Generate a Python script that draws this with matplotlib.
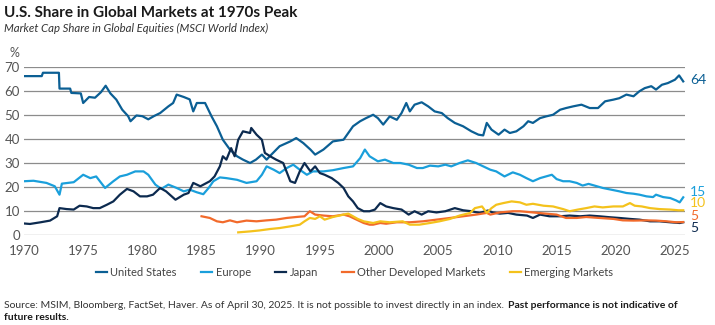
import matplotlib
matplotlib.use("Agg")
import matplotlib.pyplot as plt

plt.rcParams["font.family"] = ["Lato", "DejaVu Sans"]

# market cap share (%)
us_year = [1970.0, 1971.5, 1971.6, 1972.95, 1973.0, 1973.9, 1974.0, 1974.8, 1975.0,
           1975.5, 1976.0, 1976.5, 1976.9, 1977.3, 1977.8, 1978.3, 1978.8, 1979.0,
           1979.5, 1980.0, 1980.5, 1981.0, 1981.5, 1982.2, 1982.6, 1982.9, 1983.5,
           1984.0, 1984.3, 1984.6, 1985.3, 1985.85, 1986.3, 1986.8, 1987.4, 1988.0,
           1988.5, 1989.1, 1989.6, 1990.1, 1990.5, 1990.9, 1991.6, 1992.5, 1993.0,
           1993.6, 1994.2, 1994.6, 1995.3, 1996.1, 1997.0, 1997.8, 1998.4, 1998.9,
           1999.5, 1999.9, 2000.35, 2000.9, 2001.5, 2001.9, 2002.3, 2002.6, 2003.0,
           2003.6, 2004.15, 2004.7, 2005.3, 2005.8, 2006.4, 2007.1, 2007.8, 2008.4,
           2008.8, 2009.1, 2009.5, 2010.1, 2010.6, 2011.05, 2011.6, 2012.2, 2012.6,
           2013.0, 2013.6, 2014.1, 2014.7, 2015.3, 2015.8, 2016.4, 2017.1, 2017.8,
           2018.5, 2019.1, 2019.8, 2020.3, 2020.9, 2021.5, 2022.0, 2022.45, 2023.0,
           2023.4, 2023.9, 2024.4, 2025.0, 2025.35, 2025.7]
us_share = [66.2, 66.2, 67.6, 67.6, 61.0, 61.0, 59.2, 59.0, 55.0,
            57.5, 57.2, 59.5, 62.2, 59.0, 56.4, 52.2, 49.5, 47.4,
            49.8, 49.5, 48.2, 49.6, 50.8, 53.6, 55.0, 58.5, 57.5,
            56.5, 51.5, 55.0, 55.0, 49.4, 45.3, 39.7, 35.6, 32.8,
            31.4, 30.0, 31.4, 33.5, 31.4, 33.5, 37.0, 39.0, 40.4,
            38.3, 35.6, 33.5, 35.6, 39.0, 39.7, 45.3, 47.4, 48.7,
            50.1, 48.7, 46.0, 49.4, 48.0, 50.8, 55.0, 51.5, 54.3,
            55.3, 53.6, 51.5, 50.8, 48.7, 46.7, 45.3, 43.2, 41.8,
            41.5, 46.7, 43.9, 41.8, 43.9, 42.5, 43.2, 45.3, 47.4,
            46.7, 48.7, 49.4, 50.1, 52.2, 52.9, 53.6, 54.3, 52.9,
            52.9, 55.7, 56.4, 57.0, 58.5, 57.8, 59.9, 61.2, 62.0,
            60.6, 62.6, 63.3, 64.7, 66.5, 64.0]

eu_year = [1970.0, 1970.8, 1971.9, 1972.6, 1973.0, 1973.2, 1974.2, 1975.0, 1975.6,
           1976.1, 1976.85, 1977.55, 1978.1, 1978.7, 1979.4, 1980.1, 1980.5, 1981.1,
           1981.6, 1982.2, 1982.9, 1983.5, 1984.0, 1984.6, 1985.15, 1985.6, 1986.0,
           1986.55, 1987.1, 1988.0, 1988.8, 1989.65, 1990.1, 1990.5, 1991.1, 1991.6,
           1992.2, 1992.75, 1993.3, 1993.9, 1994.4, 1995.3, 1996.1, 1997.0, 1997.8,
           1998.4, 1998.8, 1999.2, 1999.9, 2000.5, 2001.2, 2001.8, 2002.5, 2003.2,
           2003.7, 2004.3, 2005.0, 2005.6, 2006.1, 2006.8, 2007.5, 2008.2, 2008.8,
           2009.4, 2009.9, 2010.6, 2011.3, 2011.9, 2012.45, 2013.0, 2013.6, 2014.1,
           2014.6, 2015.0, 2015.55, 2016.1, 2016.7, 2017.2, 2017.7, 2018.2, 2018.9,
           2019.6, 2020.3, 2020.9, 2021.5, 2022.0, 2022.6, 2023.15, 2023.4, 2024.0,
           2024.6, 2025.1, 2025.4, 2025.7]
eu_share = [22.4, 22.6, 21.7, 20.3, 16.8, 21.4, 22.0, 25.1, 23.7,
            24.4, 19.6, 22.4, 24.4, 25.1, 26.5, 26.5, 25.1, 21.0,
            19.2, 21.0, 19.6, 18.2, 18.9, 17.8, 17.0, 19.6, 22.4,
            24.0, 23.7, 23.0, 21.7, 22.4, 25.1, 28.6, 27.2, 25.8,
            27.9, 29.3, 27.2, 25.1, 26.5, 26.5, 27.0, 27.9, 28.6,
            32.0, 35.6, 32.8, 30.7, 31.4, 30.0, 30.0, 29.3, 27.9,
            27.9, 28.9, 28.6, 29.3, 28.6, 30.0, 31.1, 30.0, 28.6,
            27.2, 26.5, 24.4, 26.1, 25.1, 23.7, 22.4, 23.7, 24.4,
            25.1, 23.3, 22.4, 22.4, 21.7, 20.6, 21.3, 20.6, 19.6,
            18.9, 18.2, 17.5, 17.2, 16.8, 16.1, 15.8, 16.8, 15.8,
            15.4, 14.4, 13.6, 15.7]

jp_year = [1970.0, 1970.5, 1971.4, 1972.2, 1972.8, 1973.0, 1973.6, 1974.2, 1974.7,
           1975.3, 1975.85, 1976.4, 1977.0, 1977.55, 1978.1, 1978.7, 1979.25, 1979.8,
           1980.4, 1980.9, 1981.5, 1982.0, 1982.8, 1983.5, 1983.9, 1984.3, 1984.9,
           1985.7, 1986.1, 1986.55, 1986.8, 1987.1, 1987.5, 1987.8, 1988.1, 1988.5,
           1989.1, 1989.2, 1989.65, 1990.1, 1990.35, 1990.8, 1991.3, 1991.9, 1992.5,
           1992.9, 1993.3, 1993.7, 1994.2, 1994.6, 1995.0, 1995.4, 1996.0, 1996.55,
           1997.0, 1997.4, 1997.8, 1998.2, 1998.7, 1999.2, 1999.65, 2000.1, 2000.6,
           2001.2, 2001.9, 2002.5, 2003.0, 2003.6, 2004.15, 2004.85, 2005.6, 2006.4,
           2007.1, 2007.8, 2008.5, 2009.2, 2009.6, 2010.2, 2010.9, 2011.6, 2012.5,
           2013.0, 2013.6, 2014.4, 2015.3, 2016.1, 2017.0, 2017.8, 2018.6, 2019.5,
           2020.3, 2021.2, 2022.0, 2022.9, 2023.7, 2024.6, 2025.4, 2025.7]
jp_share = [4.8, 4.6, 5.3, 6.0, 7.8, 11.2, 10.8, 10.6, 12.2,
            11.9, 11.2, 11.2, 12.6, 14.0, 16.8, 19.2, 18.2, 16.1,
            16.1, 16.8, 19.6, 18.2, 14.7, 16.8, 17.5, 21.7, 20.3,
            22.4, 24.4, 28.6, 32.8, 31.4, 36.2, 32.8, 39.7, 43.2,
            42.5, 44.6, 41.8, 39.7, 34.2, 32.8, 31.4, 30.0, 22.4,
            21.7, 26.5, 30.0, 26.5, 28.6, 25.8, 25.1, 23.7, 21.7,
            19.6, 16.1, 14.0, 11.2, 9.9, 9.9, 10.6, 13.3, 11.9,
            11.2, 10.6, 8.5, 9.9, 8.5, 9.9, 9.4, 9.9, 11.2,
            10.3, 9.9, 9.2, 10.2, 9.4, 8.9, 9.2, 8.5, 8.1,
            7.1, 8.5, 7.8, 7.8, 8.1, 7.8, 8.1, 7.8, 7.4,
            7.1, 6.7, 6.4, 5.7, 5.7, 5.3, 5.0, 5.3]

odm_year = [1985.0, 1985.7, 1986.3, 1986.8, 1987.4, 1988.0, 1988.8, 1989.65, 1990.5,
            1991.3, 1992.2, 1993.0, 1993.7, 1994.15, 1994.6, 1995.3, 1996.1, 1997.0,
            1997.5, 1998.1, 1998.7, 1999.2, 1999.5, 2000.1, 2000.6, 2001.5, 2002.6,
            2003.7, 2004.85, 2006.0, 2007.1, 2008.2, 2009.1, 2009.4, 2010.2, 2011.3,
            2011.9, 2013.0, 2014.1, 2015.0, 2015.8, 2016.7, 2017.5, 2018.6, 2019.8,
            2020.6, 2021.5, 2022.6, 2023.4, 2024.3, 2025.1, 2025.7]
odm_share = [7.8, 7.1, 5.7, 5.3, 6.1, 5.3, 6.0, 5.7, 6.1,
             6.4, 7.1, 7.5, 7.8, 9.9, 8.5, 8.1, 7.8, 8.5,
             7.8, 6.4, 5.0, 4.3, 4.3, 5.0, 4.7, 5.3, 5.3,
             5.7, 6.4, 7.1, 7.8, 8.5, 9.2, 8.5, 9.4, 9.9,
             9.9, 9.4, 8.9, 8.5, 7.1, 7.1, 7.5, 7.1, 6.7,
             6.1, 6.0, 6.1, 6.0, 5.7, 5.3, 5.4]

em_year = [1988.1, 1989.1, 1989.9, 1990.8, 1991.6, 1992.5, 1993.3, 1993.7, 1994.15,
           1994.6, 1995.0, 1995.4, 1996.1, 1997.0, 1997.4, 1997.8, 1998.2, 1998.7,
           1999.5, 2000.1, 2000.9, 2002.0, 2002.6, 2003.4, 2004.3, 2005.1, 2006.0,
           2006.8, 2007.7, 2008.1, 2008.7, 2009.1, 2009.5, 2009.9, 2010.5, 2011.2,
           2011.9, 2012.45, 2013.0, 2013.9, 2014.7, 2015.55, 2016.1, 2016.8, 2017.5,
           2018.2, 2018.9, 2019.8, 2020.6, 2021.2, 2021.6, 2022.2, 2022.9, 2023.7,
           2024.6, 2025.3, 2025.7]
em_share = [1.1, 1.5, 1.9, 2.5, 2.9, 3.6, 4.3, 5.7, 7.1,
            6.7, 7.8, 6.4, 7.5, 8.5, 8.9, 7.8, 6.7, 5.7,
            5.0, 5.7, 5.3, 5.7, 4.3, 4.3, 5.0, 5.7, 6.7,
            8.1, 9.2, 11.2, 11.9, 9.2, 11.2, 12.6, 13.3, 14.0,
            13.6, 12.6, 13.0, 12.2, 11.9, 10.8, 9.9, 10.6, 11.2,
            11.9, 11.5, 11.9, 11.9, 13.3, 12.2, 11.9, 11.2, 10.8,
            10.6, 10.3, 10.3]

series = [
    ("United States", us_year, us_share, "#0b5f94", "64", 64.5),
    ("Europe", eu_year, eu_share, "#1a9fdb", "15", 17.8),
    ("Japan", jp_year, jp_share, "#0c2a4f", "5", 2.8),
    ("Other Developed Markets", odm_year, odm_share, "#f26a2b", "5", 7.9),
    ("Emerging Markets", em_year, em_share, "#f4c21c", "10", 13.2),
]

fig = plt.figure(figsize=(7.15, 3.25), dpi=100)
ax = fig.add_axes([24 / 715, 1 - 235 / 325, 661 / 715, 168 / 325])

for name, xs, ys, color, end_label, label_y in series:
    ax.plot(xs, ys, color=color, linewidth=1.6, label=name)
    ax.text(2026.3, label_y, end_label, color=color, fontsize=10,
            va="center", ha="left")

ax.set_xlim(1970, 2025.85)
ax.set_ylim(0, 70)
ax.set_yticks(range(0, 71, 10))
ax.set_xticks(range(1970, 2026, 5))
ax.grid(axis="y", color="#8c8c8c", linewidth=0.9)
ax.set_axisbelow(True)
for s in ax.spines.values():
    s.set_visible(False)
ax.tick_params(length=0, labelsize=9.5, labelcolor="#555555")
ax.tick_params(axis="y", pad=3)
ax.tick_params(axis="x", pad=7)

fig.text(4 / 715, 1 - 13 / 325, "U.S. Share in Global Markets at 1970s Peak",
         fontsize=11, fontweight="bold", color="#1a1a1a", va="center")
fig.text(4 / 715, 1 - 28 / 325, "Market Cap Share in Global Equities (MSCI World Index)",
         fontsize=8.2, style="italic", color="#333333", va="center")
fig.text(9 / 715, 1 - 53 / 325, "%", fontsize=9, color="#555555", va="center")

ax.legend(loc="center", bbox_to_anchor=(0.5, -0.225), ncol=5, frameon=False,
          fontsize=8, handlelength=1.0, handletextpad=0.3, columnspacing=2.2,
          labelcolor="#444444")

src = fig.text(4 / 715, 1 - 305 / 325,
               "Source: MSIM, Bloomberg, FactSet, Haver. As of April 30, 2025. "
               "It is not possible to invest directly in an index.",
               fontsize=7.5, color="#333333", va="center")
fig.canvas.draw()
bb = src.get_window_extent(renderer=fig.canvas.get_renderer())
fig.text((bb.x1 + 4) / fig.bbox.width, 1 - 305 / 325,
         "Past performance is not indicative of",
         fontsize=7.5, fontweight="bold", color="#1a1a1a", va="center")
fig.text(4 / 715, 1 - 318 / 325, "future results.",
         fontsize=7.5, fontweight="bold", color="#1a1a1a", va="center")

fig.savefig("out.png", dpi=100)
